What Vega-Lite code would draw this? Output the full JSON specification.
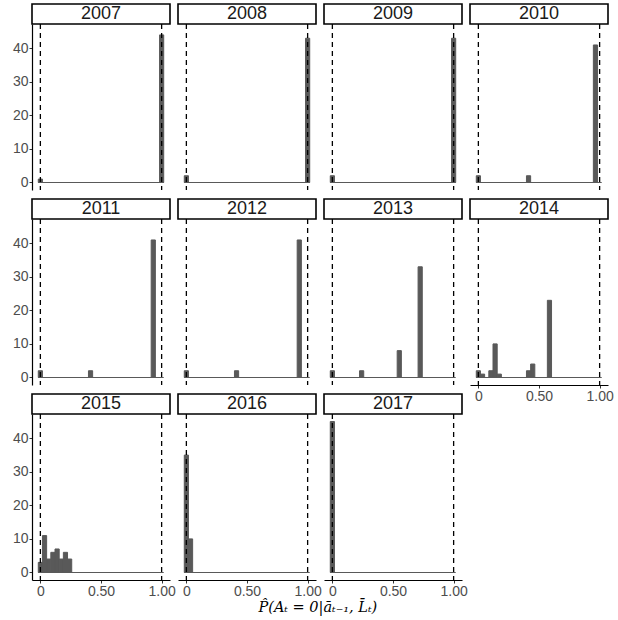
{
  "$schema": "https://vega.github.io/schema/vega-lite/v6.json",
  "padding": {"left": 12, "top": 3, "right": 5, "bottom": 2},
  "background": "white",
  "title": {
    "text": "P̂(Aₜ = 0|āₜ₋₁, L̄ₜ)",
    "orient": "bottom",
    "anchor": "middle",
    "font": "DejaVu Serif",
    "fontStyle": "italic",
    "fontWeight": "normal",
    "fontSize": 14.5,
    "color": "black",
    "offset": 3,
    "dx": 5
  },
  "data": {
    "values": [
      {"year": "2007", "bin_lo": -0.0172, "bin_hi": 0.0172, "count": 1},
      {"year": "2007", "bin_lo": 0.9828, "bin_hi": 1.0172, "count": 44},
      {"year": "2008", "bin_lo": -0.0172, "bin_hi": 0.0172, "count": 2},
      {"year": "2008", "bin_lo": 0.9828, "bin_hi": 1.0172, "count": 43},
      {"year": "2009", "bin_lo": -0.0172, "bin_hi": 0.0172, "count": 2},
      {"year": "2009", "bin_lo": 0.9828, "bin_hi": 1.0172, "count": 43},
      {"year": "2010", "bin_lo": -0.0172, "bin_hi": 0.0172, "count": 2},
      {"year": "2010", "bin_lo": 0.3966, "bin_hi": 0.431, "count": 2},
      {"year": "2010", "bin_lo": 0.9483, "bin_hi": 0.9828, "count": 41},
      {"year": "2011", "bin_lo": -0.0172, "bin_hi": 0.0172, "count": 2},
      {"year": "2011", "bin_lo": 0.3966, "bin_hi": 0.431, "count": 2},
      {"year": "2011", "bin_lo": 0.9138, "bin_hi": 0.9483, "count": 41},
      {"year": "2012", "bin_lo": -0.0172, "bin_hi": 0.0172, "count": 2},
      {"year": "2012", "bin_lo": 0.3966, "bin_hi": 0.431, "count": 2},
      {"year": "2012", "bin_lo": 0.9138, "bin_hi": 0.9483, "count": 41},
      {"year": "2013", "bin_lo": -0.0172, "bin_hi": 0.0172, "count": 2},
      {"year": "2013", "bin_lo": 0.2241, "bin_hi": 0.2586, "count": 2},
      {"year": "2013", "bin_lo": 0.5345, "bin_hi": 0.569, "count": 8},
      {"year": "2013", "bin_lo": 0.7069, "bin_hi": 0.7414, "count": 33},
      {"year": "2014", "bin_lo": -0.0172, "bin_hi": 0.0172, "count": 2},
      {"year": "2014", "bin_lo": 0.0172, "bin_hi": 0.0517, "count": 1},
      {"year": "2014", "bin_lo": 0.0862, "bin_hi": 0.1207, "count": 2},
      {"year": "2014", "bin_lo": 0.1207, "bin_hi": 0.1552, "count": 10},
      {"year": "2014", "bin_lo": 0.1552, "bin_hi": 0.1897, "count": 1},
      {"year": "2014", "bin_lo": 0.3966, "bin_hi": 0.431, "count": 2},
      {"year": "2014", "bin_lo": 0.431, "bin_hi": 0.4655, "count": 4},
      {"year": "2014", "bin_lo": 0.569, "bin_hi": 0.6034, "count": 23},
      {"year": "2015", "bin_lo": -0.0172, "bin_hi": 0.0172, "count": 3},
      {"year": "2015", "bin_lo": 0.0172, "bin_hi": 0.0517, "count": 11},
      {"year": "2015", "bin_lo": 0.0517, "bin_hi": 0.0862, "count": 4},
      {"year": "2015", "bin_lo": 0.0862, "bin_hi": 0.1207, "count": 6},
      {"year": "2015", "bin_lo": 0.1207, "bin_hi": 0.1552, "count": 7},
      {"year": "2015", "bin_lo": 0.1552, "bin_hi": 0.1897, "count": 4},
      {"year": "2015", "bin_lo": 0.1897, "bin_hi": 0.2241, "count": 6},
      {"year": "2015", "bin_lo": 0.2241, "bin_hi": 0.2586, "count": 4},
      {"year": "2016", "bin_lo": -0.0172, "bin_hi": 0.0172, "count": 35},
      {"year": "2016", "bin_lo": 0.0172, "bin_hi": 0.0517, "count": 10},
      {"year": "2017", "bin_lo": -0.0172, "bin_hi": 0.0172, "count": 45}
    ]
  },
  "columns": 4,
  "bounds": "flush",
  "spacing": {"row": 29, "column": 8},
  "resolve": {"scale": {"x": "independent", "y": "independent"}},
  "concat": [
    {
      "transform": [{"filter": "datum.year == '2007'"}],
      "width": 138, "height": 166,
      "layer": [
        {
          "mark": {"type": "rect", "color": "#595959", "stroke": "#595959", "strokeWidth": 1},
          "encoding": {
            "x": {"field": "bin_lo", "type": "quantitative", "scale": {"domain": [-0.069, 1.069], "nice": false, "zero": false}, "axis": null},
            "x2": {"field": "bin_hi"},
            "y": {"field": "count", "type": "quantitative", "scale": {"domain": [-2.25, 47.25], "nice": false, "zero": false}, "axis": {"title": null, "values": [0, 10, 20, 30, 40]}},
            "y2": {"datum": 0}
          }
        },
        {
          "transform": [{"aggregate": [{"op": "count", "as": "bins"}], "groupby": ["year"]}],
          "layer": [
            {"mark": {"type": "rule", "color": "#595959", "strokeWidth": 1.1}, "encoding": {"x": {"datum": -0.0172, "axis": null}, "x2": {"datum": 1.0172}, "y": {"datum": 0}}},
            {"mark": {"type": "rule", "color": "black", "strokeWidth": 1.3, "strokeDash": [5, 4]}, "encoding": {"x": {"datum": 0, "axis": null}}},
            {"mark": {"type": "rule", "color": "black", "strokeWidth": 1.3, "strokeDash": [5, 4]}, "encoding": {"x": {"datum": 1, "axis": null}}},
            {"mark": {"type": "rect", "fill": "white", "stroke": "black", "strokeWidth": 1.6}, "encoding": {"x": {"datum": -0.069, "axis": null}, "x2": {"datum": 1.069}, "y": {"datum": 47.25}, "y2": {"datum": 53.21}}},
            {"mark": {"type": "text", "fontSize": 18, "color": "#1a1a1a", "baseline": "middle", "align": "center"}, "encoding": {"x": {"datum": 0.5, "axis": null}, "y": {"datum": 50.23}, "text": {"field": "year", "type": "nominal"}}}
          ]
        }
      ]
    },
    {
      "transform": [{"filter": "datum.year == '2008'"}],
      "width": 138, "height": 166,
      "layer": [
        {
          "mark": {"type": "rect", "color": "#595959", "stroke": "#595959", "strokeWidth": 1},
          "encoding": {
            "x": {"field": "bin_lo", "type": "quantitative", "scale": {"domain": [-0.069, 1.069], "nice": false, "zero": false}, "axis": null},
            "x2": {"field": "bin_hi"},
            "y": {"field": "count", "type": "quantitative", "scale": {"domain": [-2.25, 47.25], "nice": false, "zero": false}, "axis": null},
            "y2": {"datum": 0}
          }
        },
        {
          "transform": [{"aggregate": [{"op": "count", "as": "bins"}], "groupby": ["year"]}],
          "layer": [
            {"mark": {"type": "rule", "color": "#595959", "strokeWidth": 1.1}, "encoding": {"x": {"datum": -0.0172, "axis": null}, "x2": {"datum": 1.0172}, "y": {"datum": 0, "axis": null}}},
            {"mark": {"type": "rule", "color": "black", "strokeWidth": 1.3, "strokeDash": [5, 4]}, "encoding": {"x": {"datum": 0, "axis": null}}},
            {"mark": {"type": "rule", "color": "black", "strokeWidth": 1.3, "strokeDash": [5, 4]}, "encoding": {"x": {"datum": 1, "axis": null}}},
            {"mark": {"type": "rect", "fill": "white", "stroke": "black", "strokeWidth": 1.6}, "encoding": {"x": {"datum": -0.069, "axis": null}, "x2": {"datum": 1.069}, "y": {"datum": 47.25, "axis": null}, "y2": {"datum": 53.21}}},
            {"mark": {"type": "text", "fontSize": 18, "color": "#1a1a1a", "baseline": "middle", "align": "center"}, "encoding": {"x": {"datum": 0.5, "axis": null}, "y": {"datum": 50.23, "axis": null}, "text": {"field": "year", "type": "nominal"}}}
          ]
        }
      ]
    },
    {
      "transform": [{"filter": "datum.year == '2009'"}],
      "width": 138, "height": 166,
      "layer": [
        {
          "mark": {"type": "rect", "color": "#595959", "stroke": "#595959", "strokeWidth": 1},
          "encoding": {
            "x": {"field": "bin_lo", "type": "quantitative", "scale": {"domain": [-0.069, 1.069], "nice": false, "zero": false}, "axis": null},
            "x2": {"field": "bin_hi"},
            "y": {"field": "count", "type": "quantitative", "scale": {"domain": [-2.25, 47.25], "nice": false, "zero": false}, "axis": null},
            "y2": {"datum": 0}
          }
        },
        {
          "transform": [{"aggregate": [{"op": "count", "as": "bins"}], "groupby": ["year"]}],
          "layer": [
            {"mark": {"type": "rule", "color": "#595959", "strokeWidth": 1.1}, "encoding": {"x": {"datum": -0.0172, "axis": null}, "x2": {"datum": 1.0172}, "y": {"datum": 0, "axis": null}}},
            {"mark": {"type": "rule", "color": "black", "strokeWidth": 1.3, "strokeDash": [5, 4]}, "encoding": {"x": {"datum": 0, "axis": null}}},
            {"mark": {"type": "rule", "color": "black", "strokeWidth": 1.3, "strokeDash": [5, 4]}, "encoding": {"x": {"datum": 1, "axis": null}}},
            {"mark": {"type": "rect", "fill": "white", "stroke": "black", "strokeWidth": 1.6}, "encoding": {"x": {"datum": -0.069, "axis": null}, "x2": {"datum": 1.069}, "y": {"datum": 47.25, "axis": null}, "y2": {"datum": 53.21}}},
            {"mark": {"type": "text", "fontSize": 18, "color": "#1a1a1a", "baseline": "middle", "align": "center"}, "encoding": {"x": {"datum": 0.5, "axis": null}, "y": {"datum": 50.23, "axis": null}, "text": {"field": "year", "type": "nominal"}}}
          ]
        }
      ]
    },
    {
      "transform": [{"filter": "datum.year == '2010'"}],
      "width": 138, "height": 166,
      "layer": [
        {
          "mark": {"type": "rect", "color": "#595959", "stroke": "#595959", "strokeWidth": 1},
          "encoding": {
            "x": {"field": "bin_lo", "type": "quantitative", "scale": {"domain": [-0.069, 1.069], "nice": false, "zero": false}, "axis": null},
            "x2": {"field": "bin_hi"},
            "y": {"field": "count", "type": "quantitative", "scale": {"domain": [-2.25, 47.25], "nice": false, "zero": false}, "axis": null},
            "y2": {"datum": 0}
          }
        },
        {
          "transform": [{"aggregate": [{"op": "count", "as": "bins"}], "groupby": ["year"]}],
          "layer": [
            {"mark": {"type": "rule", "color": "#595959", "strokeWidth": 1.1}, "encoding": {"x": {"datum": -0.0172, "axis": null}, "x2": {"datum": 1.0172}, "y": {"datum": 0, "axis": null}}},
            {"mark": {"type": "rule", "color": "black", "strokeWidth": 1.3, "strokeDash": [5, 4]}, "encoding": {"x": {"datum": 0, "axis": null}}},
            {"mark": {"type": "rule", "color": "black", "strokeWidth": 1.3, "strokeDash": [5, 4]}, "encoding": {"x": {"datum": 1, "axis": null}}},
            {"mark": {"type": "rect", "fill": "white", "stroke": "black", "strokeWidth": 1.6}, "encoding": {"x": {"datum": -0.069, "axis": null}, "x2": {"datum": 1.069}, "y": {"datum": 47.25, "axis": null}, "y2": {"datum": 53.21}}},
            {"mark": {"type": "text", "fontSize": 18, "color": "#1a1a1a", "baseline": "middle", "align": "center"}, "encoding": {"x": {"datum": 0.5, "axis": null}, "y": {"datum": 50.23, "axis": null}, "text": {"field": "year", "type": "nominal"}}}
          ]
        }
      ]
    },
    {
      "transform": [{"filter": "datum.year == '2011'"}],
      "width": 138, "height": 166,
      "layer": [
        {
          "mark": {"type": "rect", "color": "#595959", "stroke": "#595959", "strokeWidth": 1},
          "encoding": {
            "x": {"field": "bin_lo", "type": "quantitative", "scale": {"domain": [-0.069, 1.069], "nice": false, "zero": false}, "axis": null},
            "x2": {"field": "bin_hi"},
            "y": {"field": "count", "type": "quantitative", "scale": {"domain": [-2.25, 47.25], "nice": false, "zero": false}, "axis": {"title": null, "values": [0, 10, 20, 30, 40]}},
            "y2": {"datum": 0}
          }
        },
        {
          "transform": [{"aggregate": [{"op": "count", "as": "bins"}], "groupby": ["year"]}],
          "layer": [
            {"mark": {"type": "rule", "color": "#595959", "strokeWidth": 1.1}, "encoding": {"x": {"datum": -0.0172, "axis": null}, "x2": {"datum": 1.0172}, "y": {"datum": 0}}},
            {"mark": {"type": "rule", "color": "black", "strokeWidth": 1.3, "strokeDash": [5, 4]}, "encoding": {"x": {"datum": 0, "axis": null}}},
            {"mark": {"type": "rule", "color": "black", "strokeWidth": 1.3, "strokeDash": [5, 4]}, "encoding": {"x": {"datum": 1, "axis": null}}},
            {"mark": {"type": "rect", "fill": "white", "stroke": "black", "strokeWidth": 1.6}, "encoding": {"x": {"datum": -0.069, "axis": null}, "x2": {"datum": 1.069}, "y": {"datum": 47.25}, "y2": {"datum": 53.21}}},
            {"mark": {"type": "text", "fontSize": 18, "color": "#1a1a1a", "baseline": "middle", "align": "center"}, "encoding": {"x": {"datum": 0.5, "axis": null}, "y": {"datum": 50.23}, "text": {"field": "year", "type": "nominal"}}}
          ]
        }
      ]
    },
    {
      "transform": [{"filter": "datum.year == '2012'"}],
      "width": 138, "height": 166,
      "layer": [
        {
          "mark": {"type": "rect", "color": "#595959", "stroke": "#595959", "strokeWidth": 1},
          "encoding": {
            "x": {"field": "bin_lo", "type": "quantitative", "scale": {"domain": [-0.069, 1.069], "nice": false, "zero": false}, "axis": null},
            "x2": {"field": "bin_hi"},
            "y": {"field": "count", "type": "quantitative", "scale": {"domain": [-2.25, 47.25], "nice": false, "zero": false}, "axis": null},
            "y2": {"datum": 0}
          }
        },
        {
          "transform": [{"aggregate": [{"op": "count", "as": "bins"}], "groupby": ["year"]}],
          "layer": [
            {"mark": {"type": "rule", "color": "#595959", "strokeWidth": 1.1}, "encoding": {"x": {"datum": -0.0172, "axis": null}, "x2": {"datum": 1.0172}, "y": {"datum": 0, "axis": null}}},
            {"mark": {"type": "rule", "color": "black", "strokeWidth": 1.3, "strokeDash": [5, 4]}, "encoding": {"x": {"datum": 0, "axis": null}}},
            {"mark": {"type": "rule", "color": "black", "strokeWidth": 1.3, "strokeDash": [5, 4]}, "encoding": {"x": {"datum": 1, "axis": null}}},
            {"mark": {"type": "rect", "fill": "white", "stroke": "black", "strokeWidth": 1.6}, "encoding": {"x": {"datum": -0.069, "axis": null}, "x2": {"datum": 1.069}, "y": {"datum": 47.25, "axis": null}, "y2": {"datum": 53.21}}},
            {"mark": {"type": "text", "fontSize": 18, "color": "#1a1a1a", "baseline": "middle", "align": "center"}, "encoding": {"x": {"datum": 0.5, "axis": null}, "y": {"datum": 50.23, "axis": null}, "text": {"field": "year", "type": "nominal"}}}
          ]
        }
      ]
    },
    {
      "transform": [{"filter": "datum.year == '2013'"}],
      "width": 138, "height": 166,
      "layer": [
        {
          "mark": {"type": "rect", "color": "#595959", "stroke": "#595959", "strokeWidth": 1},
          "encoding": {
            "x": {"field": "bin_lo", "type": "quantitative", "scale": {"domain": [-0.069, 1.069], "nice": false, "zero": false}, "axis": null},
            "x2": {"field": "bin_hi"},
            "y": {"field": "count", "type": "quantitative", "scale": {"domain": [-2.25, 47.25], "nice": false, "zero": false}, "axis": null},
            "y2": {"datum": 0}
          }
        },
        {
          "transform": [{"aggregate": [{"op": "count", "as": "bins"}], "groupby": ["year"]}],
          "layer": [
            {"mark": {"type": "rule", "color": "#595959", "strokeWidth": 1.1}, "encoding": {"x": {"datum": -0.0172, "axis": null}, "x2": {"datum": 1.0172}, "y": {"datum": 0, "axis": null}}},
            {"mark": {"type": "rule", "color": "black", "strokeWidth": 1.3, "strokeDash": [5, 4]}, "encoding": {"x": {"datum": 0, "axis": null}}},
            {"mark": {"type": "rule", "color": "black", "strokeWidth": 1.3, "strokeDash": [5, 4]}, "encoding": {"x": {"datum": 1, "axis": null}}},
            {"mark": {"type": "rect", "fill": "white", "stroke": "black", "strokeWidth": 1.6}, "encoding": {"x": {"datum": -0.069, "axis": null}, "x2": {"datum": 1.069}, "y": {"datum": 47.25, "axis": null}, "y2": {"datum": 53.21}}},
            {"mark": {"type": "text", "fontSize": 18, "color": "#1a1a1a", "baseline": "middle", "align": "center"}, "encoding": {"x": {"datum": 0.5, "axis": null}, "y": {"datum": 50.23, "axis": null}, "text": {"field": "year", "type": "nominal"}}}
          ]
        }
      ]
    },
    {
      "transform": [{"filter": "datum.year == '2014'"}],
      "width": 138, "height": 166,
      "layer": [
        {
          "mark": {"type": "rect", "color": "#595959", "stroke": "#595959", "strokeWidth": 1},
          "encoding": {
            "x": {"field": "bin_lo", "type": "quantitative", "scale": {"domain": [-0.069, 1.069], "nice": false, "zero": false}, "axis": {"title": null, "values": [0, 0.25, 0.5, 0.75, 1], "labelExpr": "datum.value == 0 ? '0' : datum.value == 0.5 ? '0.50' : datum.value == 1 ? '1.00' : ''", "labelOverlap": false, "labelFlush": false}},
            "x2": {"field": "bin_hi"},
            "y": {"field": "count", "type": "quantitative", "scale": {"domain": [-2.25, 47.25], "nice": false, "zero": false}, "axis": null},
            "y2": {"datum": 0}
          }
        },
        {
          "transform": [{"aggregate": [{"op": "count", "as": "bins"}], "groupby": ["year"]}],
          "layer": [
            {"mark": {"type": "rule", "color": "#595959", "strokeWidth": 1.1}, "encoding": {"x": {"datum": -0.0172}, "x2": {"datum": 1.0172}, "y": {"datum": 0, "axis": null}}},
            {"mark": {"type": "rule", "color": "black", "strokeWidth": 1.3, "strokeDash": [5, 4]}, "encoding": {"x": {"datum": 0}}},
            {"mark": {"type": "rule", "color": "black", "strokeWidth": 1.3, "strokeDash": [5, 4]}, "encoding": {"x": {"datum": 1}}},
            {"mark": {"type": "rect", "fill": "white", "stroke": "black", "strokeWidth": 1.6}, "encoding": {"x": {"datum": -0.069}, "x2": {"datum": 1.069}, "y": {"datum": 47.25, "axis": null}, "y2": {"datum": 53.21}}},
            {"mark": {"type": "text", "fontSize": 18, "color": "#1a1a1a", "baseline": "middle", "align": "center"}, "encoding": {"x": {"datum": 0.5}, "y": {"datum": 50.23, "axis": null}, "text": {"field": "year", "type": "nominal"}}}
          ]
        }
      ]
    },
    {
      "transform": [{"filter": "datum.year == '2015'"}],
      "width": 138, "height": 166,
      "layer": [
        {
          "mark": {"type": "rect", "color": "#595959", "stroke": "#595959", "strokeWidth": 1},
          "encoding": {
            "x": {"field": "bin_lo", "type": "quantitative", "scale": {"domain": [-0.069, 1.069], "nice": false, "zero": false}, "axis": {"title": null, "values": [0, 0.25, 0.5, 0.75, 1], "labelExpr": "datum.value == 0 ? '0' : datum.value == 0.5 ? '0.50' : datum.value == 1 ? '1.00' : ''", "labelOverlap": false, "labelFlush": false}},
            "x2": {"field": "bin_hi"},
            "y": {"field": "count", "type": "quantitative", "scale": {"domain": [-2.25, 47.25], "nice": false, "zero": false}, "axis": {"title": null, "values": [0, 10, 20, 30, 40]}},
            "y2": {"datum": 0}
          }
        },
        {
          "transform": [{"aggregate": [{"op": "count", "as": "bins"}], "groupby": ["year"]}],
          "layer": [
            {"mark": {"type": "rule", "color": "#595959", "strokeWidth": 1.1}, "encoding": {"x": {"datum": -0.0172}, "x2": {"datum": 1.0172}, "y": {"datum": 0}}},
            {"mark": {"type": "rule", "color": "black", "strokeWidth": 1.3, "strokeDash": [5, 4]}, "encoding": {"x": {"datum": 0}}},
            {"mark": {"type": "rule", "color": "black", "strokeWidth": 1.3, "strokeDash": [5, 4]}, "encoding": {"x": {"datum": 1}}},
            {"mark": {"type": "rect", "fill": "white", "stroke": "black", "strokeWidth": 1.6}, "encoding": {"x": {"datum": -0.069}, "x2": {"datum": 1.069}, "y": {"datum": 47.25}, "y2": {"datum": 53.21}}},
            {"mark": {"type": "text", "fontSize": 18, "color": "#1a1a1a", "baseline": "middle", "align": "center"}, "encoding": {"x": {"datum": 0.5}, "y": {"datum": 50.23}, "text": {"field": "year", "type": "nominal"}}}
          ]
        }
      ]
    },
    {
      "transform": [{"filter": "datum.year == '2016'"}],
      "width": 138, "height": 166,
      "layer": [
        {
          "mark": {"type": "rect", "color": "#595959", "stroke": "#595959", "strokeWidth": 1},
          "encoding": {
            "x": {"field": "bin_lo", "type": "quantitative", "scale": {"domain": [-0.069, 1.069], "nice": false, "zero": false}, "axis": {"title": null, "values": [0, 0.25, 0.5, 0.75, 1], "labelExpr": "datum.value == 0 ? '0' : datum.value == 0.5 ? '0.50' : datum.value == 1 ? '1.00' : ''", "labelOverlap": false, "labelFlush": false}},
            "x2": {"field": "bin_hi"},
            "y": {"field": "count", "type": "quantitative", "scale": {"domain": [-2.25, 47.25], "nice": false, "zero": false}, "axis": null},
            "y2": {"datum": 0}
          }
        },
        {
          "transform": [{"aggregate": [{"op": "count", "as": "bins"}], "groupby": ["year"]}],
          "layer": [
            {"mark": {"type": "rule", "color": "#595959", "strokeWidth": 1.1}, "encoding": {"x": {"datum": -0.0172}, "x2": {"datum": 1.0172}, "y": {"datum": 0, "axis": null}}},
            {"mark": {"type": "rule", "color": "black", "strokeWidth": 1.3, "strokeDash": [5, 4]}, "encoding": {"x": {"datum": 0}}},
            {"mark": {"type": "rule", "color": "black", "strokeWidth": 1.3, "strokeDash": [5, 4]}, "encoding": {"x": {"datum": 1}}},
            {"mark": {"type": "rect", "fill": "white", "stroke": "black", "strokeWidth": 1.6}, "encoding": {"x": {"datum": -0.069}, "x2": {"datum": 1.069}, "y": {"datum": 47.25, "axis": null}, "y2": {"datum": 53.21}}},
            {"mark": {"type": "text", "fontSize": 18, "color": "#1a1a1a", "baseline": "middle", "align": "center"}, "encoding": {"x": {"datum": 0.5}, "y": {"datum": 50.23, "axis": null}, "text": {"field": "year", "type": "nominal"}}}
          ]
        }
      ]
    },
    {
      "transform": [{"filter": "datum.year == '2017'"}],
      "width": 138, "height": 166,
      "layer": [
        {
          "mark": {"type": "rect", "color": "#595959", "stroke": "#595959", "strokeWidth": 1},
          "encoding": {
            "x": {"field": "bin_lo", "type": "quantitative", "scale": {"domain": [-0.069, 1.069], "nice": false, "zero": false}, "axis": {"title": null, "values": [0, 0.25, 0.5, 0.75, 1], "labelExpr": "datum.value == 0 ? '0' : datum.value == 0.5 ? '0.50' : datum.value == 1 ? '1.00' : ''", "labelOverlap": false, "labelFlush": false}},
            "x2": {"field": "bin_hi"},
            "y": {"field": "count", "type": "quantitative", "scale": {"domain": [-2.25, 47.25], "nice": false, "zero": false}, "axis": null},
            "y2": {"datum": 0}
          }
        },
        {
          "transform": [{"aggregate": [{"op": "count", "as": "bins"}], "groupby": ["year"]}],
          "layer": [
            {"mark": {"type": "rule", "color": "#595959", "strokeWidth": 1.1}, "encoding": {"x": {"datum": -0.0172}, "x2": {"datum": 1.0172}, "y": {"datum": 0, "axis": null}}},
            {"mark": {"type": "rule", "color": "black", "strokeWidth": 1.3, "strokeDash": [5, 4]}, "encoding": {"x": {"datum": 0}}},
            {"mark": {"type": "rule", "color": "black", "strokeWidth": 1.3, "strokeDash": [5, 4]}, "encoding": {"x": {"datum": 1}}},
            {"mark": {"type": "rect", "fill": "white", "stroke": "black", "strokeWidth": 1.6}, "encoding": {"x": {"datum": -0.069}, "x2": {"datum": 1.069}, "y": {"datum": 47.25, "axis": null}, "y2": {"datum": 53.21}}},
            {"mark": {"type": "text", "fontSize": 18, "color": "#1a1a1a", "baseline": "middle", "align": "center"}, "encoding": {"x": {"datum": 0.5}, "y": {"datum": 50.23, "axis": null}, "text": {"field": "year", "type": "nominal"}}}
          ]
        }
      ]
    }
  ],
  "config": {
    "view": {"stroke": null},
    "font": "Liberation Sans",
    "axis": {
      "grid": false,
      "domainColor": "black",
      "domainWidth": 1.2,
      "tickColor": "#333333",
      "tickSize": 3,
      "tickWidth": 1,
      "labelColor": "#4d4d4d",
      "labelFont": "Liberation Sans",
      "labelFontSize": 14,
      "labelPadding": 1
    }
  }
}
